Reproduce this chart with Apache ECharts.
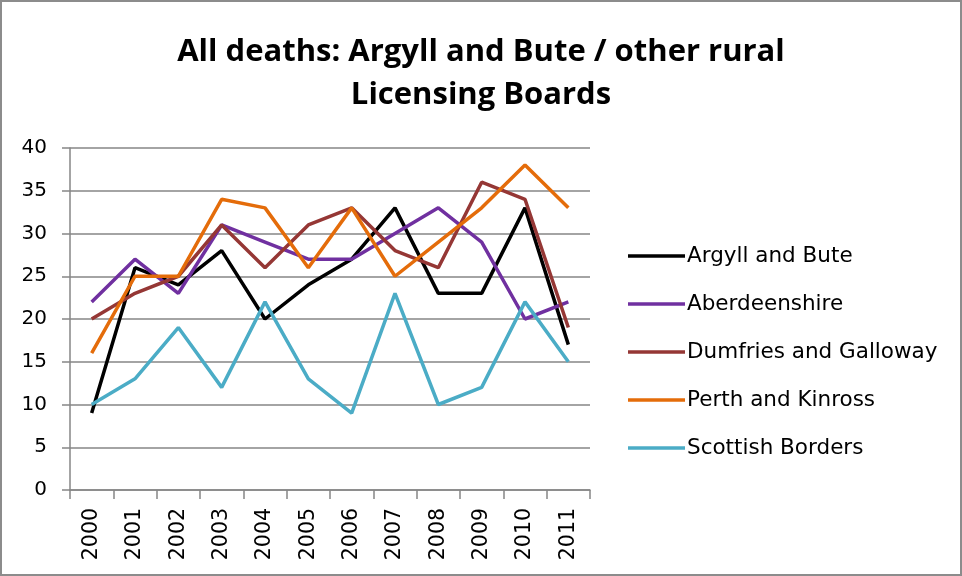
<!DOCTYPE html>
<html><head><meta charset="utf-8">
<script src="https://cdn.jsdelivr.net/npm/echarts@6/dist/echarts.min.js"></script>
<style>html,body{margin:0;padding:0;background:#fff}
#wrap{position:relative;width:962px;height:576px}
#c{width:962px;height:576px}
#frame{position:absolute;left:0;top:0;width:962px;height:576px;box-sizing:border-box;border:2px solid #8c8c8c;pointer-events:none}</style>
</head><body><div id="wrap"><div id="c"></div><div id="frame"></div></div>
<script>
const years = ['2000','2001','2002','2003','2004','2005','2006','2007','2008','2009','2010','2011'];
const argyll = [9, 26, 24, 28, 20, 24, 27, 33, 23, 23, 33, 17];
const aberdeenshire = [22, 27, 23, 31, 29, 27, 27, 30, 33, 29, 20, 22];
const dumfries = [20, 23, 25, 31, 26, 31, 33, 28, 26, 36, 34, 19];
const perth = [16, 25, 25, 34, 33, 26, 33, 25, 29, 33, 38, 33];
const borders = [10, 13, 19, 12, 22, 13, 9, 23, 10, 12, 22, 15];
const names = ['Argyll and Bute','Aberdeenshire','Dumfries and Galloway','Perth and Kinross','Scottish Borders'];
const colors = ['#000000','#7030A0','#953735','#E46C0A','#4BACC6'];
const seriesData = [argyll, aberdeenshire, dumfries, perth, borders];
const labelFont = '"DejaVu Sans", sans-serif';
const chart = echarts.init(document.getElementById('c'));
chart.setOption({
  animation: false,
  title: {
    text: 'All deaths: Argyll and Bute / other rural\nLicensing Boards',
    left: 'center', top: 26,
    textStyle: {fontFamily: '"Open Sans", sans-serif', fontSize: 31, fontWeight: 'bold', color: '#000', lineHeight: 43}
  },
  legend: {
    orient: 'vertical', left: 623, top: 240, itemGap: 26,
    icon: 'rect', itemWidth: 57, itemHeight: 3.5,
    textStyle: {fontFamily: labelFont, fontSize: 21.5, lineHeight: 21, color: '#000', padding: [0,0,0,-3]},
    data: names
  },
  grid: {left: 70, right: 372, top: 148, bottom: 86, containLabel: false},
  xAxis: {
    type: 'category', data: years, boundaryGap: true,
    axisLine: {lineStyle: {color: '#868686', width: 1.5}},
    axisTick: {show: true, length: 9, lineStyle: {color: '#868686', width: 1.5}},
    axisLabel: {rotate: 90, color: '#000', fontFamily: labelFont, fontSize: 20.5, margin: 18}
  },
  yAxis: {
    type: 'value', min: 0, max: 40, interval: 5,
    axisLine: {show: true, lineStyle: {color: '#868686', width: 1.5}},
    axisTick: {show: true, length: 8, lineStyle: {color: '#868686', width: 1.5}},
    splitLine: {lineStyle: {color: '#868686', width: 1.5}},
    axisLabel: {color: '#000', fontFamily: labelFont, fontSize: 20, margin: 23}
  },
  series: seriesData.map((d, i) => ({
    name: names[i], type: 'line', data: d, symbol: 'none',
    lineStyle: {color: colors[i], width: 3.5}, itemStyle: {color: colors[i]}
  }))
});
</script></body></html>
